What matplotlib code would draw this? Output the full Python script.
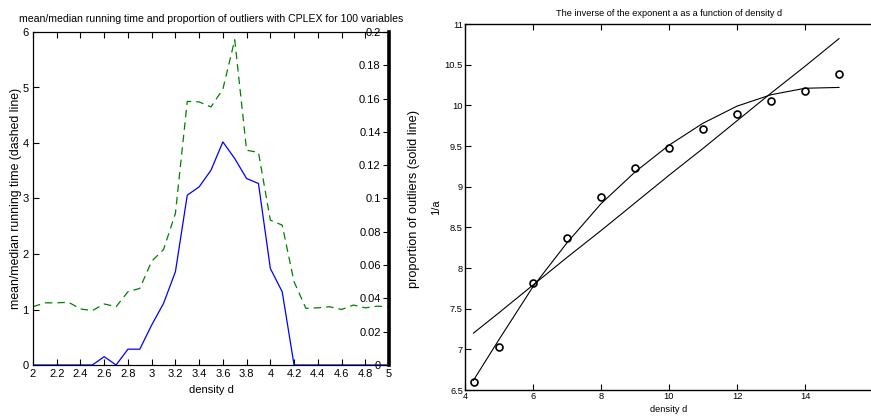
import numpy as np
import matplotlib
matplotlib.use('Agg')
import matplotlib.pyplot as plt

plt.rcParams['font.family'] = ['Liberation Sans', 'DejaVu Sans']

# left panel: density d vs mean/median time (dashed) and outlier proportion (solid)
density = [2.0, 2.1, 2.2, 2.3, 2.4, 2.5, 2.6, 2.7, 2.8, 2.9, 3.0, 3.1, 3.2, 3.3, 3.4, 3.5,
           3.6, 3.7, 3.8, 3.9, 4.0, 4.1, 4.2, 4.3, 4.4, 4.5, 4.6, 4.7, 4.8, 4.9, 5.0]
mean_median = [1.05, 1.12, 1.12, 1.13, 1.01, 0.98, 1.10, 1.05, 1.32, 1.38, 1.87, 2.08, 2.73,
               4.75, 4.74, 4.65, 4.97, 5.86, 3.87, 3.83, 2.61, 2.52, 1.50, 1.02, 1.03, 1.05,
               1.00, 1.08, 1.03, 1.06, 1.05]
outliers = [0, 0, 0, 0, 0, 0, 0.005, 0, 0.0095, 0.0095, 0.024, 0.037, 0.056, 0.102, 0.107,
            0.117, 0.134, 0.124, 0.112, 0.109, 0.058, 0.044, 0, 0, 0, 0, 0, 0, 0, 0, 0]
left_xticks = [2, 2.2, 2.4, 2.6, 2.8, 3, 3.2, 3.4, 3.6, 3.8, 4, 4.2, 4.4, 4.6, 4.8, 5]
right_yticks = [0, 0.02, 0.04, 0.06, 0.08, 0.1, 0.12, 0.14, 0.16, 0.18, 0.2]

# right panel: 1/a vs density d, with linear and quadratic fits
d_vals = [4.25, 5, 6, 7, 8, 9, 10, 11, 12, 13, 14, 15]
inv_a = [6.60, 7.03, 7.81, 8.37, 8.87, 9.23, 9.48, 9.71, 9.89, 10.05, 10.18, 10.38]
lin_fit = [7.20, 7.45, 7.79, 8.13, 8.46, 8.80, 9.14, 9.47, 9.81, 10.15, 10.48, 10.82]
quad_fit = [6.62, 7.12, 7.77, 8.31, 8.79, 9.18, 9.51, 9.78, 9.99, 10.13, 10.21, 10.22]

W, H = 871, 419
fig = plt.figure(figsize=(W / 100, H / 100), dpi=100)


def box(l, t, r, b):
    return [l / W, (H - b) / H, (r - l) / W, (b - t) / H]


ax = fig.add_axes(box(33, 32, 389, 365))
ax.plot(density, mean_median, '--', color='#008000', lw=0.9, dashes=(6, 4))
ax.set_xlim(2, 5)
ax.set_ylim(0, 6)
ax.set_xticks(left_xticks)
ax.set_xticklabels(['%g' % v for v in left_xticks])
ax.tick_params(direction='in', top=True, right=False, labelsize=8, length=4, width=0.8, pad=3)
ax.set_xlabel('density d', fontsize=8, labelpad=4)
ax.set_ylabel('mean/median running time (dashed line)', fontsize=8.8, labelpad=0.5)
ax.set_title('mean/median running time and proportion of outliers with CPLEX for 100 variables',
             fontsize=7.6, pad=7)
for s in ax.spines.values():
    s.set_linewidth(0.8)

ax2 = ax.twinx()
ax2.plot(density, outliers, '-', color='#0000ff', lw=0.9)
ax2.set_ylim(0, 0.2)
ax2.set_yticks(right_yticks)
ax2.set_yticklabels(['%g' % v for v in right_yticks])
ax2.tick_params(axis='y', direction='in', labelsize=8, length=4, width=0.8, pad=-6)
for lab in ax2.get_yticklabels():
    lab.set_horizontalalignment('right')
ax2.spines['right'].set_linewidth(2.6)
ax2.set_ylabel('proportion of outliers (solid line)', fontsize=9.2, labelpad=14)

bx = fig.add_axes(box(465, 24, 873, 390))
bx.plot(d_vals, inv_a, 'o', mfc='none', mec='black', ms=5, mew=1.2)
bx.plot(d_vals, lin_fit, '-', color='black', lw=0.8)
bx.plot(d_vals, quad_fit, '-', color='black', lw=0.8)
bx.set_xlim(4, 16)
bx.set_ylim(6.5, 11)
bx.set_xticks([4, 6, 8, 10, 12, 14])
bx.set_yticks([6.5, 7, 7.5, 8, 8.5, 9, 9.5, 10, 10.5, 11])
bx.set_yticklabels(['6.5', '7', '7.5', '8', '8.5', '9', '9.5', '10', '10.5', '11'])
bx.tick_params(direction='in', top=True, right=False, labelsize=6.7, length=4, width=0.8, pad=1.5)
bx.set_xlabel('density d', fontsize=6.7, labelpad=3)
bx.set_ylabel('1/a', fontsize=8, labelpad=2.5)
bx.set_title('The inverse of the exponent a as a function of density d', fontsize=6.6, pad=6)
for s in bx.spines.values():
    s.set_linewidth(1.0)

fig.savefig('out.png', dpi=100)
